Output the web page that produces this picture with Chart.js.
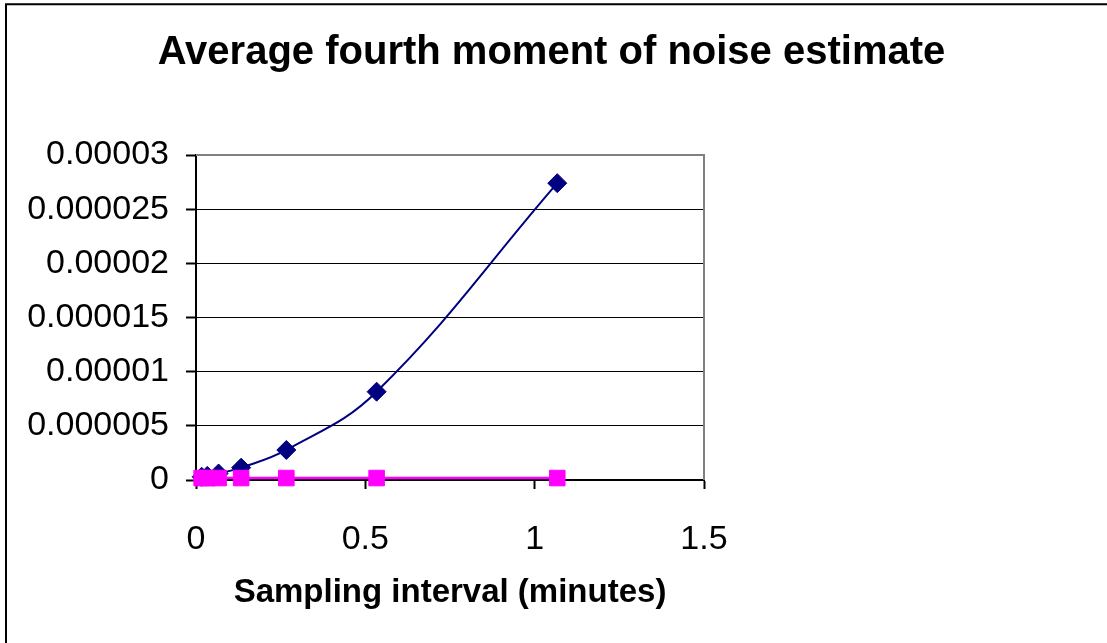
<!DOCTYPE html>
<html>
<head>
<meta charset="utf-8">
<script src="https://cdn.jsdelivr.net/npm/chart.js@4/dist/chart.umd.min.js"></script>
<style>
  html, body { margin: 0; padding: 0; background: #ffffff; overflow: hidden; }
  #wrap { width: 1107px; height: 643px; }
</style>
</head>
<body>
<div id="wrap"><canvas id="c" width="1107" height="643"></canvas></div>
<script>
// Sampling intervals in minutes (1 s, 2 s, 4 s, ... 64 s)
const intervals = [0.0167, 0.0333, 0.0667, 0.1333, 0.2667, 0.5333, 1.0667];
// Average fourth moment of the noise estimate
const fourthMoment = [0.00000030, 0.00000038, 0.00000060, 0.00000114, 0.00000277, 0.00000815, 0.0000274];
// Reference level for the same intervals
const referenceLevel = [0.00000018, 0.00000018, 0.00000018, 0.00000018, 0.00000018, 0.00000018, 0.00000018];

const xTicks = [0, 0.5, 1, 1.5];
const xTickLabels = ['0', '0.5', '1', '1.5'];
const yTicks = [0, 0.000005, 0.00001, 0.000015, 0.00002, 0.000025, 0.00003];
const yTickLabels = ['0', '0.000005', '0.00001', '0.000015', '0.00002', '0.000025', '0.00003'];

const FONT = '"Liberation Sans", Arial, Helvetica, sans-serif';

const toPoints = (xs, ys) => xs.map((x, i) => ({ x: x, y: ys[i] }));

// Outer chart frame and the grey plot-area frame
const framePlugin = {
  id: 'frame',
  beforeDraw(chart) {
    const ctx = chart.ctx;
    ctx.save();
    ctx.fillStyle = '#ffffff';
    ctx.fillRect(0, 0, chart.width, chart.height);
    ctx.strokeStyle = '#000000';
    ctx.lineWidth = 2;
    ctx.beginPath();
    ctx.moveTo(6, chart.height + 10);
    ctx.lineTo(6, 4.3);
    ctx.lineTo(chart.width + 10, 4.3);
    ctx.stroke();
    ctx.restore();
  },
  beforeDatasetsDraw(chart) {
    const a = chart.chartArea;
    const ctx = chart.ctx;
    ctx.save();
    ctx.strokeStyle = '#808080';
    ctx.lineWidth = 2;
    ctx.beginPath();
    ctx.moveTo(a.left, a.top);
    ctx.lineTo(a.right, a.top);
    ctx.lineTo(a.right, a.bottom);
    ctx.stroke();
    ctx.restore();
  }
};

new Chart(document.getElementById('c'), {
  type: 'scatter',
  data: {
    datasets: [
      {
        label: 'Fourth moment',
        data: toPoints(intervals, fourthMoment),
        showLine: true,
        tension: 0.4,
        borderColor: '#000080',
        borderWidth: 2,
        backgroundColor: '#000080',
        pointStyle: 'rectRot',
        pointRadius: 9.5,
        pointBorderWidth: 1,
        pointBorderColor: '#000080',
        pointBackgroundColor: '#000080',
        clip: false,
        order: 1
      },
      {
        label: 'Reference',
        data: toPoints(intervals, referenceLevel),
        showLine: true,
        tension: 0.4,
        borderColor: '#FF00FF',
        borderWidth: 2.5,
        backgroundColor: '#FF00FF',
        pointStyle: 'rect',
        pointRadius: 11,
        pointBorderWidth: 1,
        pointBorderColor: '#FF00FF',
        pointBackgroundColor: '#FF00FF',
        clip: false,
        order: 0
      }
    ]
  },
  options: {
    responsive: false,
    animation: false,
    events: [],
    layout: { padding: { left: 0, right: 4, top: 0, bottom: 0 } },
    plugins: {
      legend: { display: false },
      tooltip: { enabled: false },
      title: {
        display: true,
        text: 'Average fourth moment of noise estimate',
        color: '#000000',
        font: { family: FONT, size: 40, weight: 'bold', lineHeight: 1.2 },
        padding: { top: 28.5, bottom: 78.5 }
      }
    },
    scales: {
      x: {
        type: 'linear',
        position: 'bottom',
        min: 0,
        max: 1.5,
        afterBuildTicks: s => { s.ticks = xTicks.map(v => ({ value: v })); },
        afterFit: s => { s.height = 163; },
        ticks: {
          color: '#000000',
          font: { family: FONT, size: 34 },
          padding: 30,
          maxRotation: 0,
          callback: (v, i) => xTickLabels[i]
        },
        grid: {
          display: true,
          drawOnChartArea: false,
          drawTicks: true,
          tickLength: 9,
          tickColor: '#000000',
          tickWidth: 2,
          color: '#000000'
        },
        border: { display: true, color: '#000000', width: 2 },
        title: {
          display: true,
          text: 'Sampling interval (minutes)',
          color: '#000000',
          font: { family: FONT, size: 33, weight: 'bold', lineHeight: 1.2 },
          padding: { top: 0, bottom: 30.6 }
        }
      },
      y: {
        type: 'linear',
        position: 'left',
        min: 0,
        max: 0.00003,
        afterBuildTicks: s => { s.ticks = yTicks.map(v => ({ value: v })); },
        afterFit: s => { s.width = 196; },
        ticks: {
          color: '#000000',
          font: { family: FONT, size: 34 },
          padding: 17,
          callback: (v, i) => yTickLabels[i]
        },
        grid: {
          display: true,
          drawOnChartArea: true,
          drawTicks: true,
          tickLength: 10,
          tickColor: '#000000',
          tickWidth: 2,
          lineWidth: 1,
          color: c => (c.tick && c.tick.value === yTicks[yTicks.length - 1]) ? 'rgba(0,0,0,0)' : '#000000'
        },
        border: { display: true, color: '#000000', width: 2 }
      },
      side: {
        type: 'linear',
        position: 'right',
        display: true,
        afterFit: s => { s.width = 399; },
        ticks: { display: false },
        grid: { display: false },
        border: { display: false }
      }
    }
  },
  plugins: [framePlugin]
});
</script>
</body>
</html>
